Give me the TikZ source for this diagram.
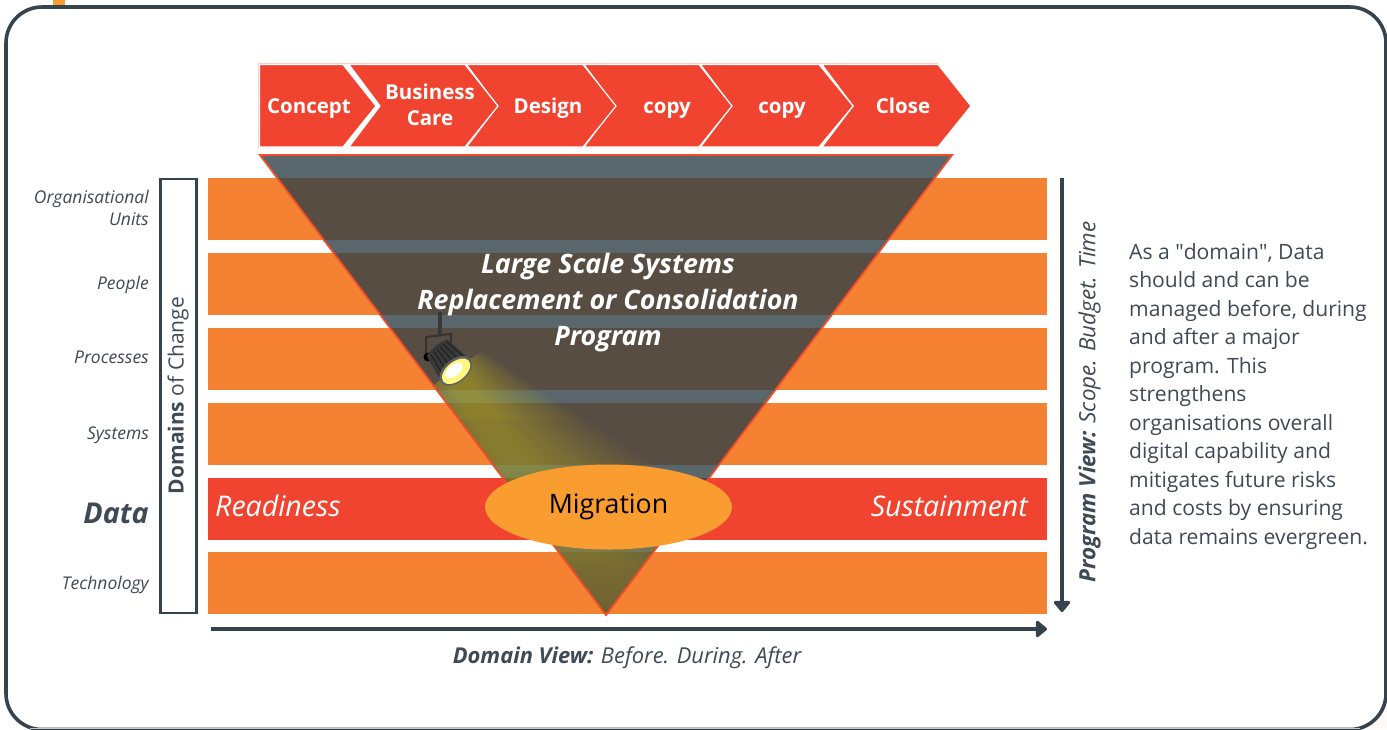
\documentclass[tikz,border=0pt]{standalone}
\usepackage{fontspec}
\setmainfont{Open Sans}
\newfontfamily\plainf{Open Sans}
\usetikzlibrary{fadings,arrows.meta,calc,shapes.geometric}
\definecolor{ink}{HTML}{35434F}
\definecolor{txt}{HTML}{3F4A55}
\definecolor{barO}{HTML}{F58233}
\definecolor{barR}{HTML}{F04330}
\definecolor{migr}{HTML}{F99D31}
\definecolor{funnel}{HTML}{304047}
\definecolor{beam}{HTML}{D8C820}
\tikzset{
 bar/.style={fill=barO,draw=none},
 chev/.style={fill=barR,draw=white,line width=1.2pt,line join=miter},
 chevt/.style={font=\fontsize{20.5}{26}\selectfont\bfseries,text=white,align=center,inner sep=0pt},
 chevb/.style={chevt,anchor=base},
 side/.style={font=\fontsize{17.5}{22}\selectfont\itshape,text=txt,align=right,anchor=base east,inner sep=0pt},
 arr/.style={draw=ink,line width=3.4pt,-{Triangle[length=12pt,width=19pt,round]}},
}
\tikzfading[name=beamfade,top color=transparent!10,bottom color=transparent!75]
\newcommand{\chevron}[3]{% left, shoulder, tip
 \draw[chev] (#1,64.5) -- (#2,64.5) -- (#3,106) -- (#2,147) -- (#1,147) -- ($(#1,106)+(31,0)$) -- cycle;}
\begin{document}
\begin{tikzpicture}[x=1pt,y=-1pt]
\useasboundingbox (0,0) rectangle (1387,729);
\fill[white] (0,0) rectangle (1387,729);
\fill[migr] (53,0) rectangle (65,6);
% outer frame
\fill[white!90!pink] (1340,690) rectangle (1387,729);
\draw[ink,line width=3.6pt,fill=white,rounded corners=36pt] (6,7) rectangle (1386,729.5);
\fill[gray!45] (30,728) rectangle (1360,729);
% bars
\path[bar] (208,178) rectangle (1047,240);
\path[bar] (208,253) rectangle (1047,315);
\path[bar] (208,328) rectangle (1047,390);
\path[bar] (208,403) rectangle (1047,465);
\fill[barR] (208,478) rectangle (1047,540);
\path[bar] (208,552) rectangle (1047,614);
% funnel
\fill[funnel,opacity=.8] (260,155) -- (952,155) -- (606,615) -- cycle;
\begin{scope}
\clip (260,155) -- (952,155) -- (606,615) -- cycle;
\begin{scope}[shift={(452,372)},rotate=35]
 \foreach \w in {1,...,18}{
  \pgfmathsetmacro{\a}{6+\w*1.7}
  \pgfmathsetmacro{\e}{18+\w*7.5}
  \fill[beam,opacity=.042,path fading=beamfade] (-\a,0) -- (\a,0) -- (\e,300) -- (-\e,300) -- cycle;
 }
\end{scope}
\end{scope}
\draw[barR!85!orange,line width=1.8pt,line join=miter] (260,155) -- (952,155) -- (606,615) -- cycle;
% chevrons
\chevron{822}{938}{971}
\chevron{700.5}{819}{853}
\chevron{584}{699}{732}
\chevron{466.5}{583}{616}
\chevron{349}{465}{498}
\draw[chev] (259.5,64.5) -- (343,64.5) -- (376,106) -- (343,147) -- (259.5,147) -- cycle;
\draw[barR!25,line width=.7pt] (258.5,148) -- (258.5,63.5) -- (938,63.5);
\node[chevb] (c1) at (309,113) {Concept};
\node[chevt] (c2) at (430,105) {Business\\Care};
\node[chevb] (c3) at (548,113) {Design};
\node[chevb] (c4) at (667,113) {copy};
\node[chevb] (c5) at (782,113) {copy};
\node[chevb] (c6) at (903,113) {Close};
% spotlight
\fill[black!78] (438,312) rectangle (441.5,336);
\draw[black!80,line width=2pt] (426,354) -- (426,337) -- (451,334) -- (451,346);
\fill[black] (428,357) circle (4.5);
\begin{scope}[shift={(447,360)},rotate=39]
 \fill[black!78] (-13.5,-15) -- (13.5,-15) -- (18,13) -- (-18,13) -- cycle;
 \fill[black!78] (0,-15) ellipse (13.5 and 3);
 \foreach \i in {-9,-5,...,11}{\draw[black!92,line width=.6pt] (\i,-15) -- ({\i*1.4},9);}
 \fill[black!62] (0,14) ellipse (19 and 11.5);
 \fill[yellow!50!white] (0,14.5) ellipse (16.5 and 9.5);
 \fill[white] (-1,12.5) ellipse (10 and 5.5);
\end{scope}
% centre text
\node[font=\fontsize{26.8}{36}\selectfont\bfseries\itshape,text=white,align=center,inner sep=0pt] (title) at (608,302.5) {Large Scale Systems\\Replacement or Consolidation\\Program};
\node[font=\fontsize{28.5}{30}\selectfont\itshape,text=white,anchor=base west,inner sep=0pt] (rd) at (215,516.5) {Readiness};
\node[font=\fontsize{28.5}{30}\selectfont\itshape,text=white,anchor=base east,inner sep=0pt] (su) at (1028,516.5) {Sustainment};
\node[ellipse,fill=migr,draw=none,minimum width=247pt,minimum height=85pt,inner sep=0pt,font=\fontsize{26.7}{30}\selectfont,text=black] (mig) at (608.5,507) {Migration};
% left labels
\node[side,anchor=east] (l1) at (149,208) {Organisational\\Units};
\node[side] (l2) at (149,289) {People};
\node[side] (l3) at (149,363) {Processes};
\node[side] (l4) at (149,439) {Systems};
\node[side,font=\fontsize{28.7}{30}\selectfont\bfseries\itshape] (l5) at (149,523) {Data};
\node[side] (l6) at (149,589) {Technology};
\node[draw=ink,line width=2.4pt,fill=white,minimum width=36pt,minimum height=434pt,inner sep=0pt] (dom) at (178.5,396) {};
\node[rotate=90,font=\fontsize{21}{24}\selectfont,text=txt,inner sep=0pt] (domt) at (178,395.5) {\textbf{Domains} of Change};
% arrows
\coordinate (a1) at (1062,178); \coordinate (a2) at (1062,612);
\coordinate (b1) at (211,629); \coordinate (b2) at (1047,629);
\draw[arr] (a1) -- (a2);
\draw[arr] (b1) -- (b2);
\node[rotate=90,font=\fontsize{22.4}{24}\selectfont\itshape,text=txt,inner sep=0pt] (pv) at (1089.5,402) {\textbf{Program View:} Scope. Budget. Time};
\node[font=\fontsize{21.9}{24}\selectfont\itshape,text=txt,inner sep=0pt] (dv) at (627,657.5) {\textbf{Domain View:} Before. During. After};
% paragraph
\node[anchor=north west,inner sep=0pt,align=left,font=\fontsize{21.1}{28.5}\selectfont,text=txt] (para) at (1129,243) {As a {\plainf"}domain{\plainf"}, Data\\should and can be\\managed before, during\\and after a major\\program. This\\strengthens\\organisations overall\\digital capability and\\mitigates future risks\\and costs by ensuring\\data remains evergreen.};
\end{tikzpicture}
\end{document}
